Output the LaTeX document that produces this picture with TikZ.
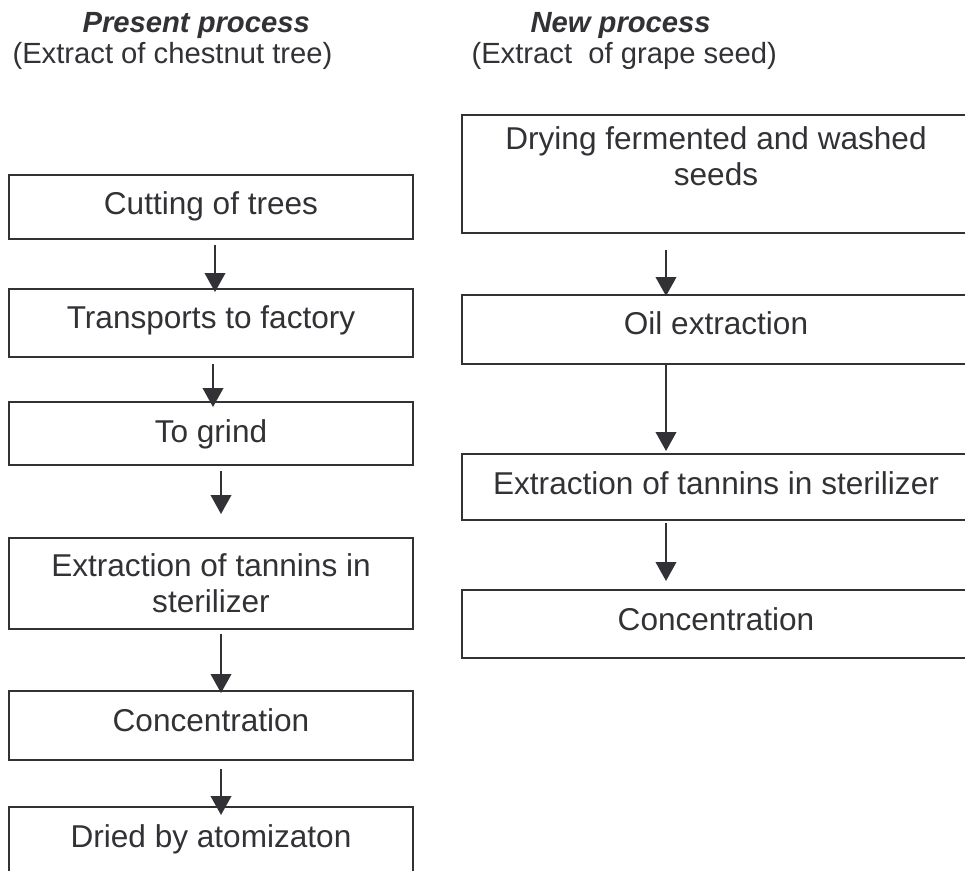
\documentclass[tikz,border=0pt]{standalone}
\usepackage{fontspec}
\setmainfont{Liberation Sans}
\usepackage{xcolor}
\usetikzlibrary{arrows.meta}
\definecolor{ink}{RGB}{50,50,54}

\begin{document}
\begin{tikzpicture}[
  x=0.38pt, y=-0.38pt, color=ink,
  font=\fontsize{12}{13.7}\selectfont, >={Triangle[length=7.2pt, width=7.8pt]},
  box/.style={draw, line width=0.75pt, anchor=north, inner sep=0pt, align=center},
  lcol/.style={box, minimum width=153.5pt},
  rcol/.style={box, minimum width=193pt},
  oneline/.style={text height=15.2pt, text depth=#1},
  tr/.style={->, line width=0.75pt},
  hdr/.style={anchor=base west, inner sep=0pt, font=\fontsize{11.1}{13}\selectfont},
  ttl/.style={hdr, font=\fontsize{11.1}{13}\selectfont\bfseries\itshape}]
  \clip (0,0) rectangle (965,870);
  % column titles
  \node[ttl] (pres) at (82,32)  {Present process};
  \node[hdr] (chest) at (12,63) {(Extract of chestnut tree)};
  \node[ttl] (new) at (530,32)  {New process};
  \node[hdr] (grape) at (471,63) {(Extract~ of grape seed)};
  % present process
  \node[lcol, oneline=9.1pt]  (cut)   at (211,174) {Cutting of trees};
  \node[lcol, oneline=10.6pt] (trans) at (211,288) {Transports to factory};
  \node[lcol, oneline=8.7pt]  (grind) at (211,401) {To grind};
  \node[lcol, minimum height=34.6pt] (tann) at (211,537) {Extraction of tannins in\\sterilizer};
  \node[lcol, oneline=11pt]   (conc)  at (211,690) {Concentration};
  \node[lcol, oneline=11pt]   (dry)   at (211,806) {Dried by atomizaton};
  % new process
  \node[rcol, minimum height=44.8pt] (seeds) at (716,114) {Drying fermented and washed\\seeds\\~};
  \node[rcol, oneline=11pt]   (oil)   at (716,294) {Oil extraction};
  \node[rcol, oneline=9.9pt]  (ntann) at (716,453) {Extraction of tannins in sterilizer};
  \node[rcol, oneline=10.6pt] (nconc) at (716,589) {Concentration};
  \foreach \a/\b/\dx/\s/\e in {cut/trans/4/5/4, trans/grind/2/6/6, grind/tann/10/5/-23,
      tann/conc/10/4/3, conc/dry/10/8/9,
      seeds/oil/-50/16/2, oil/ntann/-50/0/-2, ntann/nconc/-50/2/-8}
    \draw[tr] ([shift={(\dx,\s)}]\a.south) -- ([shift={(\dx,\e)}]\b.north);
\end{tikzpicture}
\end{document}
